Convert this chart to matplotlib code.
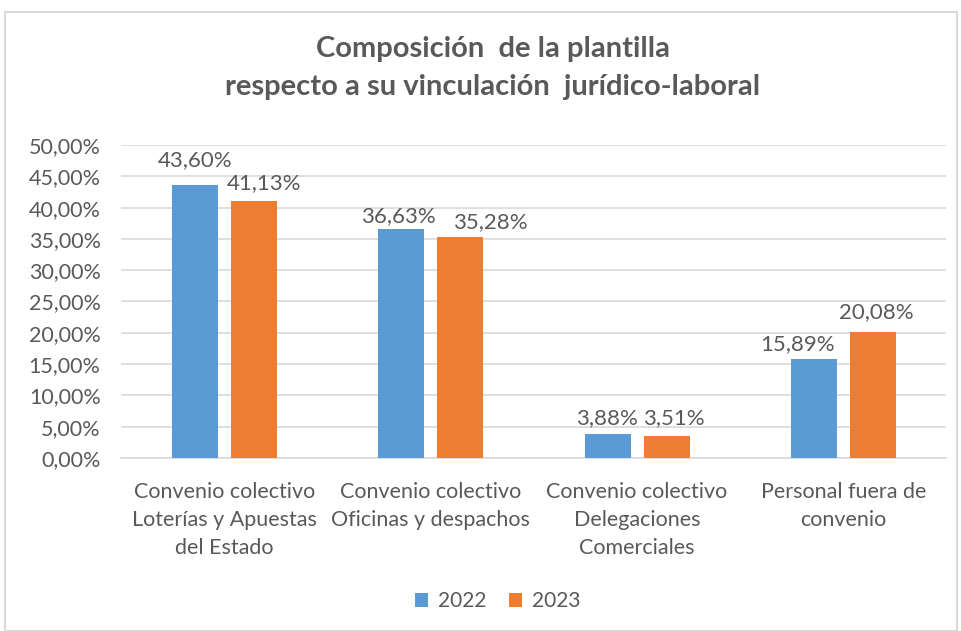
import numpy as np
import matplotlib.pyplot as plt
from matplotlib.patches import Rectangle

# Datos
categorias = ['Convenio colectivo\nLoterías y Apuestas\ndel Estado',
              'Convenio colectivo\nOficinas y despachos',
              'Convenio colectivo\nDelegaciones\nComerciales',
              'Personal fuera de\nconvenio']
valores_2022 = [43.60, 36.63, 3.88, 15.89]
valores_2023 = [41.13, 35.28, 3.51, 20.08]
series = ['2022', '2023']
colores = ['#5B9BD5', '#ED7D31']

# desplazamiento de las etiquetas (px) tal como aparecen en el original
etiq_dx = [[0, -3, -1, -16], [10, 30, 7, 3]]
etiq_dy = [[19, 7, 10, 8], [11, 9, 12, 14]]

gris = '#595959'
plt.rcParams['font.family'] = ['Lato', 'DejaVu Sans']

fig = plt.figure(figsize=(9.61, 6.31), dpi=100)
ax = fig.add_axes([0.1264, 0.2742, 0.8585, 0.496])

# Marco del gráfico
fig.patches.append(Rectangle((5 / 961, 0), 952 / 961, 1 - 12 / 631, transform=fig.transFigure,
                             fill=False, edgecolor='#D9D9D9', linewidth=1.5))

x = np.arange(len(categorias))
ancho = 0.223
desp = 0.143
for i, (vals, color, nombre) in enumerate(zip([valores_2022, valores_2023], colores, series)):
    pos = x + (desp if i else -desp)
    barras = ax.bar(pos, vals, ancho, color=color, label=nombre, zorder=3)
    for j, (b, v) in enumerate(zip(barras, vals)):
        ax.annotate(f'{v:.2f}%'.replace('.', ','), (b.get_x() + b.get_width() / 2, v),
                    xytext=(etiq_dx[i][j] * 0.72, etiq_dy[i][j] * 0.72),
                    textcoords='offset points', ha='center', va='baseline',
                    fontsize=16, color=gris)

ax.set_xlim(-0.5, len(categorias) - 0.5)
ax.set_ylim(0, 50)
ax.set_yticks(np.arange(0, 51, 5))
ax.set_yticklabels([f'{t:.2f}%'.replace('.', ',') for t in np.arange(0, 51, 5)],
                   fontsize=15.5, color=gris)
ax.set_xticks(x)
ax.set_xticklabels(categorias, fontsize=15.5, color=gris, linespacing=1.5)
ax.tick_params(axis='both', length=0)
ax.tick_params(axis='x', pad=17)
ax.tick_params(axis='y', pad=15)
ax.grid(axis='y', color='#D9D9D9', linewidth=1.2, zorder=0)
for s in ['top', 'right', 'left']:
    ax.spines[s].set_visible(False)
ax.spines['bottom'].set_color('#D9D9D9')
ax.spines['bottom'].set_linewidth(1.2)

fig.text(0.513, 0.922, 'Composición  de la plantilla', ha='center', va='center',
         fontsize=21, fontweight='bold', color=gris)
fig.text(0.513, 0.862, 'respecto a su vinculación  jurídico-laboral', ha='center', va='center',
         fontsize=21, fontweight='bold', color=gris)

fig.legend(loc='center', bbox_to_anchor=(0.518, 0.047), ncol=2, frameon=False,
           fontsize=15, labelcolor=gris, handlelength=0.6, handleheight=0.6,
           handletextpad=0.48, columnspacing=1.1)

plt.savefig('out.png', dpi=100)
